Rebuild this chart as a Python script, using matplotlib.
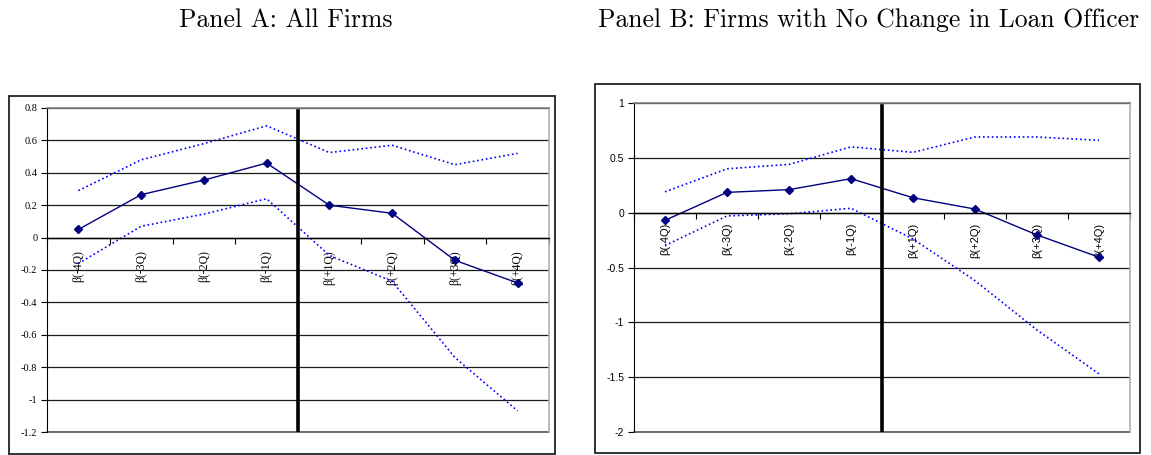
import numpy as np
import matplotlib
matplotlib.use("Agg")
import matplotlib.pyplot as plt
from matplotlib.patches import Rectangle

categories = ["β(-4Q)", "β(-3Q)", "β(-2Q)", "β(-1Q)", "β(+1Q)", "β(+2Q)", "β(+3Q)", "β(+4Q)"]

a_coef = [0.05, 0.265, 0.355, 0.46, 0.20, 0.15, -0.14, -0.28]
a_upper = [0.29, 0.48, 0.58, 0.69, 0.525, 0.57, 0.45, 0.52]
a_lower = [-0.16, 0.07, 0.145, 0.24, -0.11, -0.27, -0.74, -1.07]
a_yticks = [0.8, 0.6, 0.4, 0.2, 0, -0.2, -0.4, -0.6, -0.8, -1, -1.2]

b_coef = [-0.07, 0.185, 0.21, 0.31, 0.136, 0.033, -0.203, -0.406]
b_upper = [0.19, 0.40, 0.44, 0.60, 0.55, 0.69, 0.69, 0.66]
b_lower = [-0.30, -0.03, -0.01, 0.04, -0.24, -0.62, -1.07, -1.47]
b_yticks = [1, 0.5, 0, -0.5, -1, -1.5, -2]

titles = ["Panel A: All Firms", "Panel B: Firms with No Change in Loan Officer"]

W, H = 1151, 455
fig = plt.figure(figsize=(W / 100, H / 100), dpi=100)

def px(x0, y0, x1, y1):
    return [x0 / W, 1 - y1 / H, (x1 - x0) / W, (y1 - y0) / H]

def draw_panel(rect, box, coef, upper, lower, yticks, ylab_fmt, tick_font, label_pad, xfs):
    # outer box
    fig.add_artist(Rectangle((box[0], box[1]), box[2], box[3], transform=fig.transFigure,
                             fill=False, edgecolor="#222222", linewidth=1.3))
    ax = fig.add_axes(rect)
    x = np.arange(len(categories))
    ax.plot(x, upper, color="#0000ff", linestyle=":", linewidth=1.2)
    ax.plot(x, lower, color="#0000ff", linestyle=":", linewidth=1.2)
    ax.plot(x, coef, color="#000080", linewidth=1.0, marker="D", markersize=4.5,
            markerfacecolor="#000080", markeredgecolor="#000080")
    ax.set_xlim(-0.5, len(categories) - 0.5)
    ax.set_ylim(min(yticks), max(yticks))
    ax.set_yticks(yticks)
    ax.set_yticklabels([ylab_fmt(v) for v in yticks], fontfamily=tick_font, fontsize=7.5)
    ax.yaxis.grid(True, color="#1a1a1a", linewidth=0.9)
    ax.axhline(min(yticks), color="#555555", linewidth=1.2, clip_on=False)
    ax.set_axisbelow(True)
    ax.tick_params(axis="y", direction="out", length=4, width=0.8, pad=3)
    # zero axis
    ax.spines["bottom"].set_position(("data", 0))
    ax.spines["bottom"].set_color("black")
    ax.spines["bottom"].set_linewidth(1.0)
    ax.spines["left"].set_color("black")
    ax.spines["top"].set_color("#808080")
    ax.spines["top"].set_linewidth(1.2)
    ax.spines["right"].set_color("#b0b0b0")
    ax.spines["right"].set_linewidth(1.2)
    ax.set_xticks(np.arange(-0.5, len(categories)))
    ax.set_xticklabels([""] * (len(categories) + 1))
    ax.set_xticks(x, minor=True)
    ax.set_xticklabels(categories, minor=True, rotation=90, fontfamily=tick_font,
                       fontsize=xfs, va="top", ha="center")
    ax.tick_params(axis="x", which="major", direction="out", length=4, width=0.8)
    ax.tick_params(axis="x", which="minor", length=0, pad=label_pad)
    ax.axvline(3.5, ymin=0, ymax=0.99, color="black", linewidth=2.6, zorder=5)
    return ax

def fmt(v):
    return f"{v:g}"

draw_panel(px(47, 108, 549, 432), [9 / W, 1 / H, 546 / W, 358 / H],
           a_coef, a_upper, a_lower, a_yticks, fmt, "Liberation Serif", 9, 8.5)
draw_panel(px(634, 103, 1130, 432), [595 / W, 2 / H, 545 / W, 369 / H],
           b_coef, b_upper, b_lower, b_yticks, fmt, "Liberation Sans", 7, 8)

fig.text(286 / W, 1 - 27 / H, titles[0], fontfamily="cmr10", fontsize=18.5, ha="center", va="baseline")
fig.text(869 / W, 1 - 27 / H, titles[1], fontfamily="cmr10", fontsize=18.5, ha="center", va="baseline")

fig.savefig("out.png", dpi=100)
